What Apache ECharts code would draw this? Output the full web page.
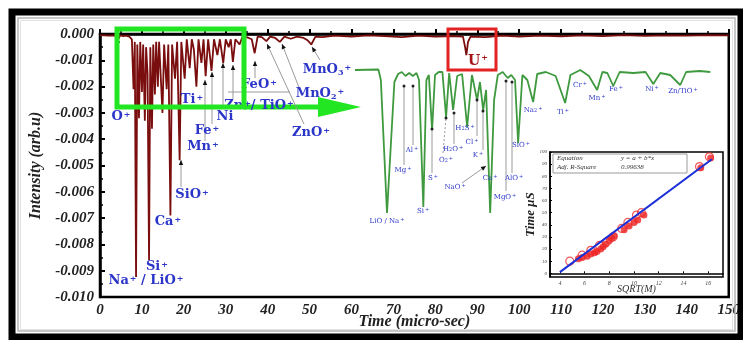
<!DOCTYPE html>
<html>
<head>
<meta charset="utf-8">
<script src="https://cdn.jsdelivr.net/npm/echarts@6.0.0/dist/echarts.min.js"></script>
<style>
  html, body { margin: 0; padding: 0; background: #fff; }
  #chart { width: 743px; height: 340px; }
</style>
</head>
<body>
<div id="chart"></div>
<script>
// main spectrum: [time (micro-sec), intensity (arb.u)]
var mainSpectrum = [
  [0, -0.00004], [2, -0.00006], [3.6, -0.00005], [4.2, -0.00025], [4.8, -0.00005], [5.6, -0.00008],
  [6.2, -0.00006], [7.0, -0.0001], [7.6, -0.0002], [8.0, -0.0021], [8.3, -0.0003], [8.6, -0.00924],
  [8.9, -0.0004], [9.3, -0.0032], [9.6, -0.0003], [10.0, -0.0022], [10.3, -0.0004], [10.7, -0.0033],
  [11.0, -0.0005], [11.35, -0.0015], [11.7, -0.0086], [12.0, -0.0005], [12.4, -0.0036], [12.7, -0.0004],
  [13.1, -0.0023], [13.4, -0.0003], [13.8, -0.002], [14.1, -0.0003], [14.9, -0.0030], [15.3, -0.0004],
  [15.9, -0.0021], [16.3, -0.0004], [16.8, -0.0069], [17.2, -0.0004], [17.9, -0.0017], [18.4, -0.0003],
  [19.0, -0.0048], [19.4, -0.0003], [20.2, -0.0017], [20.7, -0.0002], [21.4, -0.0013], [21.9, -0.0002],
  [22.4, -0.0006], [23.0, -0.0020], [23.5, -0.0002], [24.2, -0.0011], [24.7, -0.0002], [25.2, -0.0016],
  [25.8, -0.0002], [26.6, -0.0014], [27.2, -0.0002], [28.0, -0.0008], [28.6, -0.0002], [29.4, -0.0011],
  [30.0, -0.0002], [30.7, -0.0005], [31.2, -0.0002], [31.7, -0.00106], [32.3, -0.0002], [33.3, -0.0004],
  [34.0, -0.0001], [35.0, -0.00012], [36.2, -0.0002], [36.9, -0.00073], [37.6, -0.0001], [38.6, -0.00012],
  [39.7, -0.00027], [40.6, -0.0001], [41.8, -0.00015], [42.9, -0.0003], [44, -0.0001], [45.5, -0.00018],
  [47, -0.0001], [48.6, -0.00015], [49.6, -0.00025], [50.4, -0.0004], [51.4, -0.0001], [53, -0.00012],
  [56, -0.00006], [60, -0.0001], [64, -0.00005], [68, -0.00008], [72, -0.00012], [76, -0.00006],
  [80, -0.0001], [84, -0.00008], [86.6, -0.0001], [87.1, -0.0005], [87.4, -0.0008], [87.8, -0.0003],
  [88.4, -0.0001], [92, -0.00012], [96, -0.00006], [100, -0.0001], [105, -0.00006], [110, -0.00009],
  [115, -0.00005], [120, -0.00008], [125, -0.00004], [130, -0.00007], [135, -0.00005], [140, -0.00006],
  [145, -0.00004], [150, -0.00005]
];

// zoomed part (green), time vs relative depth
var zoomSpectrum = [
  [6.0, 0], [7.9, 0.5], [8.1, -10], [8.6, -143], [9.2, -12], [9.5, -4], [9.8, -2], [10.1, -6],
  [10.4, -3], [10.7, -6], [11.0, -3], [11.2, -10], [11.55, -137], [11.8, -10], [12.0, -5], [12.26, -60],
  [12.5, -5], [12.8, -2], [13.1, -2], [13.4, -47], [13.65, -3], [13.97, -40], [14.3, -6], [14.7, -4],
  [15.11, -57], [15.5, -5], [15.92, -30], [16.15, -12], [16.41, -40], [16.65, -20], [16.98, -143],
  [17.3, -30], [17.6, -5], [18.0, -2], [18.4, -8], [18.7, -5], [19.0, -10], [19.25, -73], [19.6, -5],
  [20.0, -10], [20.47, -32], [20.8, -4], [21.5, -2], [22.3, -6], [23.07, -33], [23.5, -5], [24.3, 0],
  [25.0, -6], [25.67, -20], [26.1, -2], [26.5, -3], [26.98, -16], [27.5, -2], [28.6, -3], [29.6, -2],
  [30.23, -14], [30.8, -3], [31.6, -5], [32.42, -15], [32.9, -2], [34.0, -1], [34.86, -2]
];

// inset: sqrt(mass) vs time
var insetFilled = [
  [5.5, 12], [5.8, 13], [6.2, 14], [6.5, 16], [6.8, 17], [7.0, 18], [7.3, 20], [7.5, 22], [7.7, 24],
  [8.0, 27], [8.2, 29], [8.4, 31], [9.2, 36], [9.6, 39], [10.0, 42], [10.3, 44], [10.8, 48],
  [15.4, 87], [16.2, 95]
];
var insetHollow = [
  [4.8, 10], [5.8, 15], [6.5, 19], [7.2, 23], [7.8, 26], [8.3, 30], [9.0, 37], [9.5, 42],
  [10.2, 48], [10.6, 50], [15.3, 88], [16.1, 96]
];
var insetFit = [[4, 1], [16.3, 94]];
var insetXTicks = [4, 6, 8, 10, 12, 14, 16];
var insetYTicks = [0, 10, 20, 30, 40, 50, 60, 70, 80, 90, 100];

var SERIF = 'DejaVu Serif';
var ITAL = 'Liberation Serif';
var BLUE = '#2b35c8';

function richText(str) {
  return str.replace(/([^_^]+)|\^\{([^}]*)\}|_\{([^}]*)\}/g, function (m, t, sup, sub) {
    if (t) return '{m|' + t + '}';
    if (sup !== undefined) return '{p|' + sup + '}';
    return '{b|' + sub + '}';
  });
}

function label(x, y, str, size, color, bold) {
  size = size || 13;
  color = color || BLUE;
  var w = bold === false ? 'normal' : 'bold';
  var small = Math.max(5, Math.round(size * 0.6));
  return {
    type: 'text', x: x, y: y, z: 100,
    style: {
      text: richText(str), align: 'center', verticalAlign: 'middle',
      rich: {
        m: { fontFamily: SERIF, fontWeight: w, fontSize: size, fill: color, color: color },
        p: { fontFamily: SERIF, fontWeight: w, fontSize: small, fill: color, color: color, verticalAlign: 'top', padding: [0, 0, 0, 1] },
        b: { fontFamily: SERIF, fontWeight: w, fontSize: small, fill: color, color: color, verticalAlign: 'bottom' }
      }
    }
  };
}

function seg(x1, y1, x2, y2, color, width, dash) {
  return { type: 'line', z: 99, shape: { x1: x1, y1: y1, x2: x2, y2: y2 },
    style: { stroke: color || '#9a9a9a', lineWidth: width || 1, lineDash: dash || null } };
}

function arrow(x1, y1, x2, y2) {
  var a = Math.atan2(y2 - y1, x2 - x1), L = 5, W = 2.2;
  var bx = x2 - L * Math.cos(a), by = y2 - L * Math.sin(a);
  return [
    seg(x1, y1, x2, y2),
    { type: 'polygon', z: 100, shape: { points: [[x2, y2],
      [bx + W * Math.sin(a), by - W * Math.cos(a)], [bx - W * Math.sin(a), by + W * Math.cos(a)]] },
      style: { fill: '#111' } }
  ];
}

function dot(x, y) {
  return { type: 'circle', z: 100, shape: { cx: x, cy: y, r: 1.5 }, style: { fill: '#222' } };
}

function smallText(x, y, str) {
  return { type: 'text', z: 101, x: x, y: y,
    style: { text: str, fontFamily: ITAL, fontStyle: 'italic', fontSize: 7, fill: '#333', verticalAlign: 'middle' } };
}

var graphics = [
  // outer frame
  { type: 'rect', z: 90, shape: { x: 12, y: 12, width: 729, height: 325 }, style: { fill: null, stroke: '#000', lineWidth: 7 } },
  { type: 'rect', z: 90, shape: { x: 18, y: 18, width: 717, height: 313 }, style: { fill: null, stroke: '#b5b5b5', lineWidth: 1.5 } },
  { type: 'rect', z: 90, shape: { x: 20.5, y: 20.5, width: 712, height: 309 }, style: { fill: null, stroke: '#e2e2e2', lineWidth: 1 } },
  // green zoom box and arrow
  { type: 'rect', z: 101, shape: { x: 117, y: 29, width: 127, height: 78 }, style: { fill: null, stroke: '#22e622', lineWidth: 5 } },
  seg(244, 107, 322, 107, '#22e622', 5),
  { type: 'polygon', z: 101, shape: { points: [[318, 97], [361, 107], [318, 117]] }, style: { fill: '#22e622' } },
  // red box around U+
  { type: 'rect', z: 101, shape: { x: 448, y: 29, width: 48, height: 41 }, style: { fill: null, stroke: '#e32222', lineWidth: 3 } },
  label(478, 61, 'U^{+}', 14, '#a51515'),
  // main labels
  label(121, 117, 'O^{+}'),
  label(192, 100, 'Ti^{+}'),
  label(225, 117, 'Ni'),
  label(207, 131, 'Fe^{+}'),
  label(203, 147, 'Mn^{+}'),
  label(259, 106, 'Zn^{+}/ TiO^{+}'),
  label(259, 85, 'FeO^{+}'),
  label(320, 94, 'MnO_{2}^{+}'),
  label(311, 133, 'ZnO^{+}'),
  label(327, 70, 'MnO_{3}^{+}'),
  label(192, 195, 'SiO^{+}'),
  label(168, 222, 'Ca^{+}'),
  label(157, 267, 'Si^{+}'),
  label(146, 281, 'Na^{+} / LiO^{+}'),
  seg(228, 92, 290, 92),
  // green labels
  label(387, 221, 'LiO / Na^{+}', 7, BLUE, false),
  label(423, 211, 'Si^{+}', 7, BLUE, false),
  label(403, 170, 'Mg^{+}', 7, BLUE, false),
  label(412, 150, 'Al^{+}', 7, BLUE, false),
  label(433, 178, 'S^{+}', 7, BLUE, false),
  label(446, 160, 'O_{2}^{+}', 7, BLUE, false),
  label(453, 149, 'H_{2}O^{+}', 7, BLUE, false),
  label(465, 128, 'H_{2}S^{+}', 7, BLUE, false),
  label(472, 142, 'Cl^{+}', 7, BLUE, false),
  label(478, 155, 'K^{+}', 7, BLUE, false),
  label(455, 187, 'NaO^{+}', 7, BLUE, false),
  label(490, 178, 'Ca^{+}', 7, BLUE, false),
  label(505, 197, 'MgO^{+}', 7, BLUE, false),
  label(514, 178, 'AlO^{+}', 7, BLUE, false),
  label(521, 145, 'SiO^{+}', 7, BLUE, false),
  label(533, 110, 'Na_{2}^{+}', 7, BLUE, false),
  label(563, 112, 'Ti^{+}', 7, BLUE, false),
  label(580, 85, 'Cr^{+}', 7, BLUE, false),
  label(597, 98, 'Mn^{+}', 7, BLUE, false),
  label(616, 89, 'Fe^{+}', 7, BLUE, false),
  label(652, 89, 'Ni^{+}', 7, BLUE, false),
  label(683, 91, 'Zn/TiO^{+}', 7, BLUE, false),
  seg(404, 165, 404, 86), dot(404, 86),
  seg(413, 145, 413, 86), dot(413, 86),
  seg(432, 173, 432, 129), dot(432, 129),
  seg(443, 153, 446, 118, '#9a9a9a', 1, [2, 2]), dot(446, 118),
  seg(454, 144, 454, 113), dot(454, 113),
  seg(477, 136, 477, 100), dot(477, 100),
  seg(483, 150, 483, 111), dot(483, 111),
  seg(506, 191, 506, 81), dot(506, 81),
  seg(512, 173, 512, 82), dot(512, 82),
  // inset equation box
  { type: 'rect', z: 100, shape: { x: 553, y: 154, width: 134, height: 19 }, style: { fill: '#fff', stroke: '#9a9a9a', lineWidth: 1 } },
  smallText(557, 158, 'Equation'),
  smallText(621, 158, 'y = a + b*x'),
  smallText(557, 167, 'Adj. R-Square'),
  smallText(621, 167, '0.99638')
];

// arrows of the main plot
[[118, 52, 118, 38], [205, 141, 205, 80], [212, 124, 212, 72], [223, 109, 223, 63], [233, 99, 233, 65],
 [255, 78, 255, 61], [304, 124, 267, 44], [300, 90, 282, 44], [320, 60, 312, 47], [181, 187, 181, 160],
 [462, 183, 486, 166]].forEach(function (a) {
  graphics = graphics.concat(arrow(a[0], a[1], a[2], a[3]));
});

var axisFont = { fontFamily: ITAL, fontWeight: 'bold', fontStyle: 'italic', fontSize: 15, color: '#222' };
var nameFont = { fontFamily: ITAL, fontWeight: 'bold', fontStyle: 'italic', fontSize: 16, color: '#222' };

var chart = echarts.init(document.getElementById('chart'), null, { renderer: 'canvas' });
var option = {
  backgroundColor: '#fff',
  animation: false,
  grid: [
    { left: 100, top: 34, right: 13, bottom: 43, show: true, borderColor: '#000', borderWidth: 2.5, containLabel: false },
    { left: 355, top: 60, width: 357, height: 210, show: false },
    { left: 550, top: 152, right: 20, bottom: 63, show: true, borderColor: '#000', borderWidth: 1.5, backgroundColor: '#fff' }
  ],
  xAxis: [
    {
      gridIndex: 0, type: 'value', min: 0, max: 150, interval: 10,
      name: 'Time (micro-sec)', nameLocation: 'middle', nameGap: 25, nameMoveOverlap: false,
      nameTextStyle: Object.assign({ verticalAlign: 'middle' }, nameFont),
      axisLine: { lineStyle: { color: '#000', width: 2.5 } },
      axisTick: { inside: true, length: 5, lineStyle: { color: '#000', width: 2 } },
      minorTick: { show: true, splitNumber: 2, length: 3, lineStyle: { color: '#000', width: 1.5 } },
      axisLabel: Object.assign({ margin: 6 }, axisFont),
      splitLine: { show: false }
    },
    { gridIndex: 1, type: 'value', min: 6, max: 35, show: false },
    {
      gridIndex: 2, type: 'value', min: 3.2, max: 17.2,
      name: 'SQRT(M)', nameLocation: 'middle', nameGap: 7, nameMoveOverlap: false,
      nameTextStyle: { fontFamily: ITAL, fontStyle: 'italic', fontSize: 10, color: '#333' },
      axisLine: { lineStyle: { color: '#000', width: 1.5 } },
      axisTick: { inside: true, length: 2, customValues: insetXTicks, lineStyle: { color: '#000' } },
      axisLabel: { customValues: insetXTicks, fontFamily: ITAL, fontStyle: 'italic', fontSize: 6, color: '#444', margin: 3 },
      splitLine: { show: false }
    }
  ],
  yAxis: [
    {
      gridIndex: 0, type: 'value', min: -0.010, max: 0, interval: 0.001,
      name: 'Intensity (arb.u)', nameLocation: 'middle', nameGap: 56, nameRotate: 90, nameMoveOverlap: false,
      nameTextStyle: nameFont,
      axisLine: { lineStyle: { color: '#000', width: 2.5 } },
      axisTick: { inside: true, length: 5, lineStyle: { color: '#000', width: 2 } },
      minorTick: { show: true, splitNumber: 2, length: 3, lineStyle: { color: '#000', width: 1.5 } },
      axisLabel: Object.assign({ margin: 6, formatter: function (v) { return v.toFixed(3); } }, axisFont),
      splitLine: { show: false }
    },
    { gridIndex: 1, type: 'value', min: -200, max: 10, show: false },
    {
      gridIndex: 2, type: 'value', min: -3, max: 100,
      name: 'Time \u03bcS', nameLocation: 'middle', nameGap: 13, nameRotate: 90, nameMoveOverlap: false,
      nameTextStyle: { fontFamily: ITAL, fontWeight: 'bold', fontStyle: 'italic', fontSize: 13, color: '#222' },
      axisLine: { lineStyle: { color: '#000', width: 1.5 } },
      axisTick: { inside: true, length: 2, customValues: insetYTicks, lineStyle: { color: '#000' } },
      axisLabel: { customValues: insetYTicks, fontFamily: ITAL, fontStyle: 'italic', fontSize: 5, color: '#444', margin: 3 },
      splitLine: { show: false }
    }
  ],
  series: [
    {
      name: 'spectrum', type: 'line', xAxisIndex: 0, yAxisIndex: 0, data: mainSpectrum,
      showSymbol: false, lineStyle: { color: '#7a0d0d', width: 1.8 }, z: 3
    },
    {
      name: 'zoom', type: 'line', xAxisIndex: 1, yAxisIndex: 1, data: zoomSpectrum,
      showSymbol: false, lineStyle: { color: '#3f9a3f', width: 1.8 }, z: 3
    },
    {
      name: 'fit', type: 'line', xAxisIndex: 2, yAxisIndex: 2, data: insetFit,
      showSymbol: false, lineStyle: { color: '#1a2fd8', width: 2 }, z: 6
    },
    {
      name: 'filled', type: 'scatter', xAxisIndex: 2, yAxisIndex: 2, data: insetFilled,
      symbolSize: 7, itemStyle: { color: '#ee2020' }, z: 5
    },
    {
      name: 'hollow', type: 'scatter', xAxisIndex: 2, yAxisIndex: 2, data: insetHollow,
      symbolSize: 8, itemStyle: { color: 'rgba(0,0,0,0)', borderColor: '#ee3030', borderWidth: 1.2 }, z: 5
    }
  ],
  graphic: graphics
};
chart.setOption(option);
window.addEventListener('resize', chart.resize);
</script>
</body>
</html>
